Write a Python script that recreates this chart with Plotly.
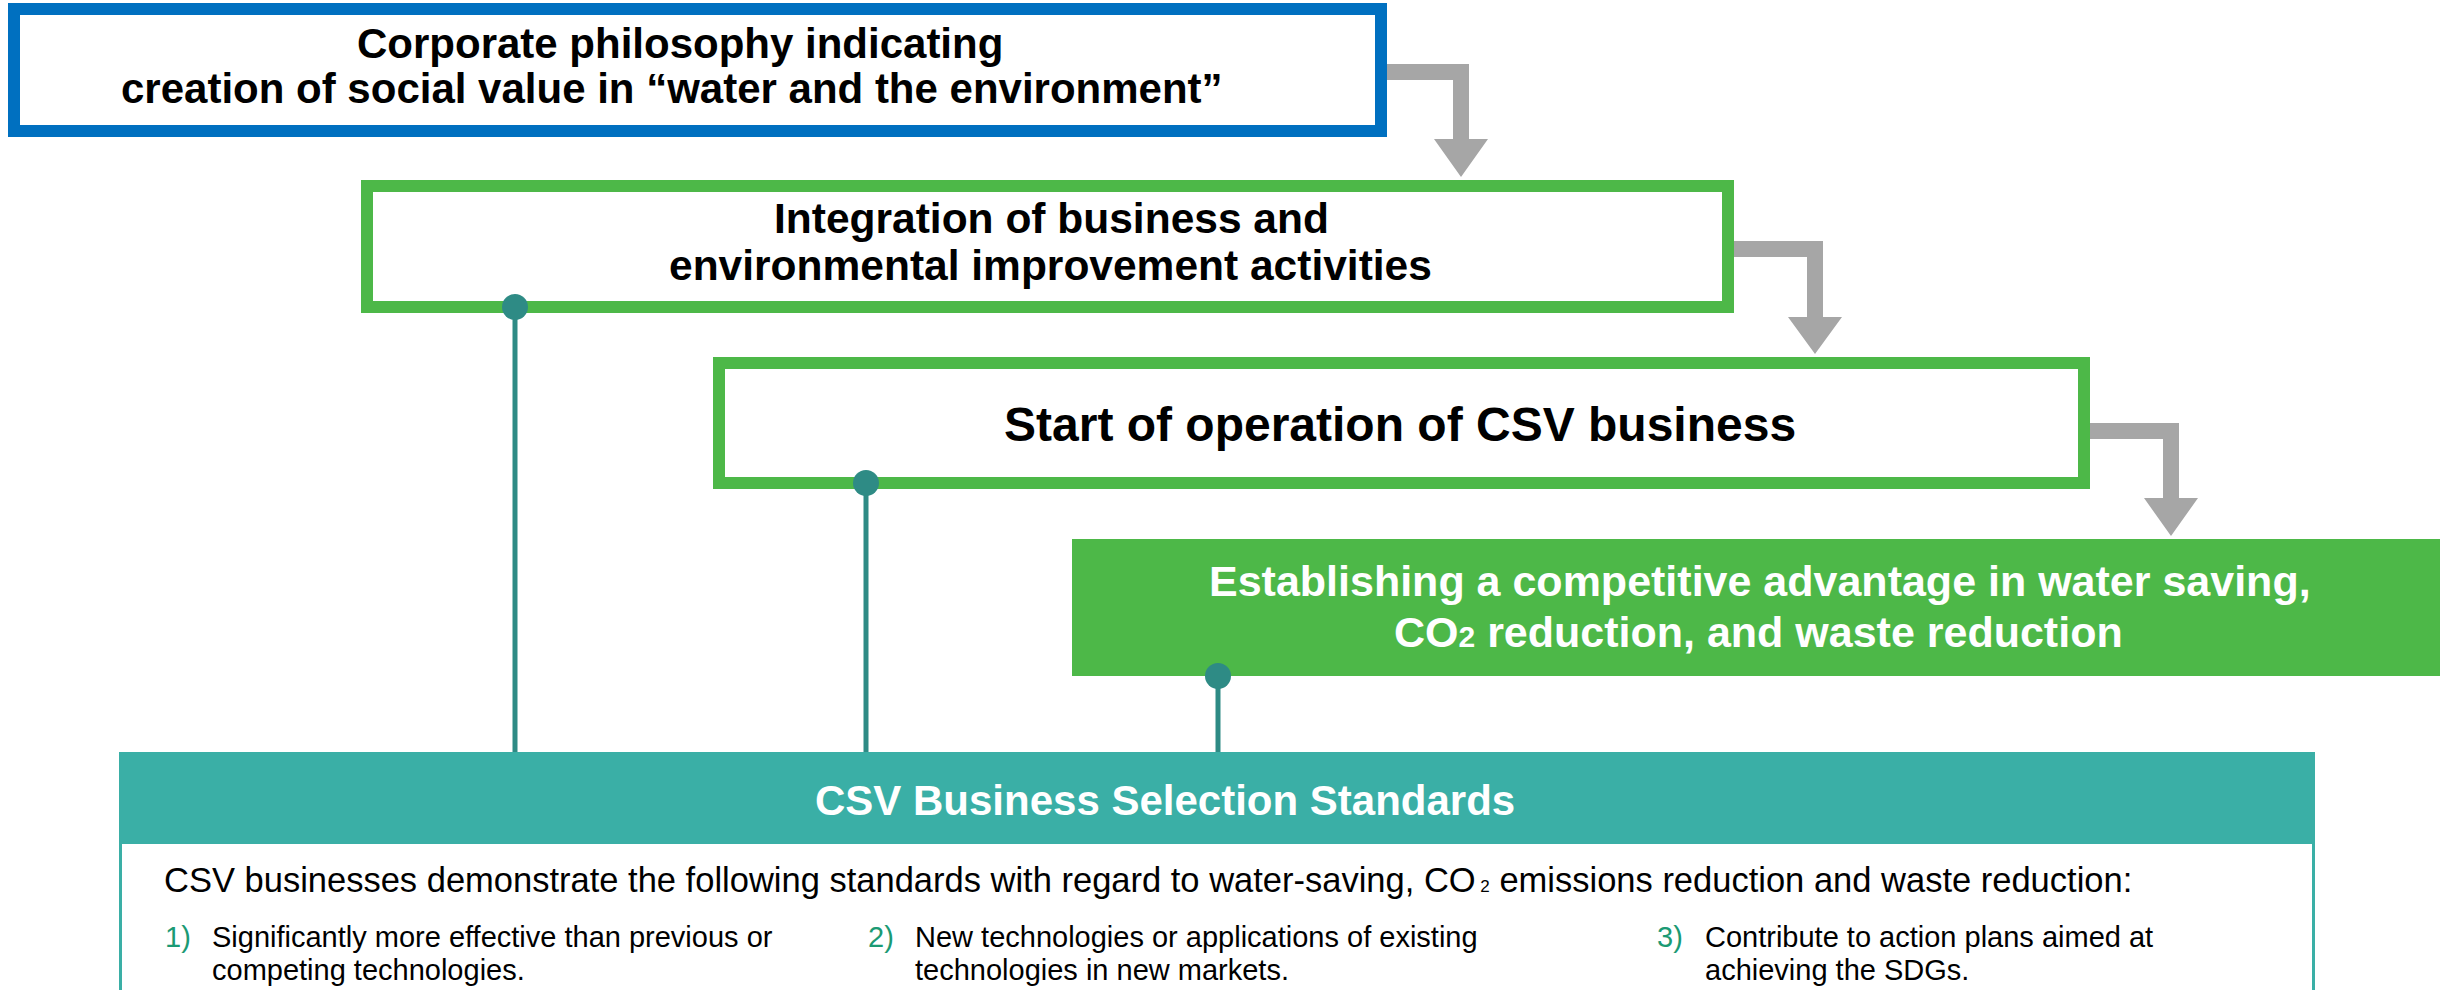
import plotly.graph_objects as go

W, H = 2440, 990
FONT = "Liberation Sans, Arial, sans-serif"

# ---- content ----
step_titles = [
    ["Corporate philosophy indicating", "creation of social value in \u201cwater and the environment\u201d"],
    ["Integration of business and", "environmental improvement activities"],
    ["Start of operation of CSV business"],
    ["Establishing a competitive advantage in water saving,",
     "CO<span style=\"font-size:30px\">2</span> reduction, and waste reduction"],
]
standards_title = "CSV Business Selection Standards"
standards_intro = ("CSV businesses demonstrate the following standards with regard to water-saving, "
                   "CO<span style=\"font-size:17px\"> 2</span> emissions reduction and waste reduction:")
item_numbers = ["1)", "2)", "3)"]
item_texts = [
    ["Significantly more effective than previous or", "competing technologies."],
    ["New technologies or applications of existing", "technologies in new markets."],
    ["Contribute to action plans aimed at", "achieving the SDGs."],
]

# ---- colours ----
BLUE = "#0070C0"
GREEN = "#4DB848"
GRAY = "#A6A6A6"
TEAL = "#3AAFA6"
DOT = "#2E8B85"
NUM = "#1B9A74"

fig = go.Figure()
shapes = []
ann = []

def rect_outline(x0, y0, x1, y1, color, lw):
    h = lw / 2
    shapes.append(dict(type="rect", xref="x", yref="y", x0=x0 + h, y0=y0 + h, x1=x1 - h, y1=y1 - h,
                       line=dict(color=color, width=lw), fillcolor="white", layer="above"))

def arrow(x0, yc, xc, ybase, tip, half=8, hw=27):
    p = (f"M {x0},{yc-half} L {xc+half},{yc-half} L {xc+half},{ybase} L {xc+hw},{ybase} "
         f"L {xc},{tip} L {xc-hw},{ybase} L {xc-half},{ybase} L {xc-half},{yc+half} L {x0},{yc+half} Z")
    shapes.append(dict(type="path", xref="x", yref="y", path=p, fillcolor=GRAY, line=dict(width=0), layer="above"))

def text(x, y, s, size, color="black", bold=False, xanchor="center"):
    ann.append(dict(x=x, y=y, xref="x", yref="y", text=s, showarrow=False, xanchor=xanchor, yanchor="middle",
                    font=dict(family=FONT, size=size, color=color, weight="bold" if bold else "normal")))

# arrows
arrow(1387, 72, 1461, 139, 177)
arrow(1734, 249, 1815, 317, 354)
arrow(2090, 431, 2171, 498, 536)

# boxes
rect_outline(8, 3, 1387, 137, BLUE, 12)
rect_outline(361, 180, 1734, 313, GREEN, 12)
rect_outline(713, 357, 2090, 489, GREEN, 12)
shapes.append(dict(type="rect", xref="x", yref="y", x0=1072, y0=539, x1=2445, y1=676,
                   fillcolor=GREEN, line=dict(width=0), layer="above"))

# standards panel
shapes.append(dict(type="rect", xref="x", yref="y", x0=120.5, y0=753.5, x1=2313.5, y1=1005,
                   fillcolor="white", line=dict(color=TEAL, width=3), layer="above"))
shapes.append(dict(type="rect", xref="x", yref="y", x0=119, y0=752, x1=2315, y1=844,
                   fillcolor=TEAL, line=dict(width=0), layer="above"))

# connectors
for xc, yc in [(515, 307), (866, 483), (1218, 676)]:
    shapes.append(dict(type="line", xref="x", yref="y", x0=xc, y0=yc, x1=xc, y1=752,
                       line=dict(color=DOT, width=5), layer="above"))
    shapes.append(dict(type="circle", xref="x", yref="y", x0=xc - 13, y0=yc - 13, x1=xc + 13, y1=yc + 13,
                       fillcolor=DOT, line=dict(width=0), layer="above"))

# texts
text(680, 43, step_titles[0][0], 42, bold=True)
text(672, 88, step_titles[0][1], 42, bold=True)
text(1051, 218, step_titles[1][0], 42.5, bold=True)
text(1050, 265, step_titles[1][1], 42.5, bold=True)
text(1400, 424, step_titles[2][0], 48, bold=True)
text(1760, 581, step_titles[3][0], 43, color="white", bold=True)
text(1758, 632, step_titles[3][1], 43, color="white", bold=True)
text(1165, 800, standards_title, 42, color="white", bold=True)
text(162, 880, standards_intro, 34.5, xanchor="left")

num_x = [163, 866, 1655]
txt_x = [210, 913, 1703]
for i in range(3):
    text(num_x[i], 937, item_numbers[i], 29, color=NUM, xanchor="left")
    text(txt_x[i], 937, item_texts[i][0], 29, xanchor="left")
    text(txt_x[i], 970, item_texts[i][1], 29, xanchor="left")

fig.update_layout(
    width=W, height=H,
    margin=dict(l=0, r=0, t=0, b=0),
    paper_bgcolor="white", plot_bgcolor="white",
    xaxis=dict(range=[0, W], visible=False, fixedrange=True),
    yaxis=dict(range=[H, 0], visible=False, fixedrange=True),
    shapes=shapes, annotations=ann, showlegend=False,
)
fig.write_html("out.html", config={"displayModeBar": False},
               post_script="document.body.style.margin='0';document.body.style.overflow='hidden';")
